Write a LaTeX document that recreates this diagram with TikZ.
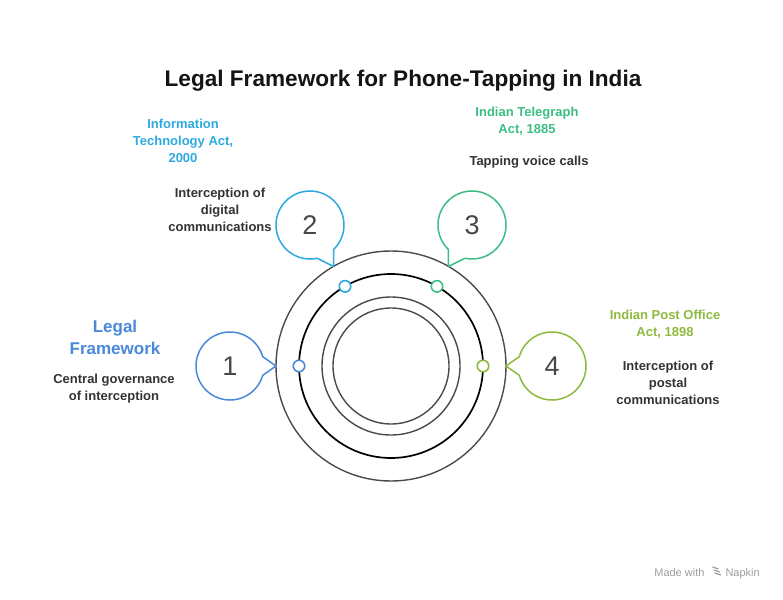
\documentclass[tikz,border=0pt]{standalone}
\usepackage{fontspec}
\setmainfont{Liberation Sans}
\usetikzlibrary{calc,positioning}

\definecolor{itemone}{HTML}{4A88DA}
\definecolor{itemtwo}{HTML}{2CAAE0}
\definecolor{itemthree}{HTML}{3CBD85}
\definecolor{itemfour}{HTML}{8DBA3E}
\definecolor{ringgray}{HTML}{4A4A4A}
\definecolor{textdark}{HTML}{333333}

\begin{document}
\begin{tikzpicture}[x=1pt,y=1pt,yscale=-1,xscale=1,
  ring/.style={draw=ringgray, line width=1.4pt},
  knob/.style={circle, draw=#1, fill=white, line width=1.6pt, minimum size=11.5pt, inner sep=0pt},
  headtext/.style={text=#1, font=\bfseries\fontsize{13}{17}\selectfont, align=center},
  bodytext/.style={text=textdark, font=\bfseries\fontsize{13}{17}\selectfont, align=center},
  numtext/.style={text=textdark!90, font=\fontsize{27}{27}\selectfont}
]
\useasboundingbox (0,0) rectangle (783,599);

% Title
\node[font=\bfseries\fontsize{22.6}{26}\selectfont, text=black!92] (title) at (403,81) {Legal Framework for Phone-Tapping in India};

% Rings
\coordinate (hub) at (391,366);
\draw[ring] (hub) circle[radius=115];
\draw[line width=1.7pt] (hub) circle[radius=92];
\draw[ring] (hub) circle[radius=69];
\draw[ring] (hub) circle[radius=58];

% Bubbles, tails and knobs
\foreach \n/\bx/\by/\ang/\tang/\col in {1/230/366/0/180/itemone, 2/310/225/62/240/itemtwo, 3/472/225/118/300/itemthree, 4/552/366/180/0/itemfour}{
  \coordinate (tip\n) at ($(hub)+(\tang:115)$);
  \node[numtext, circle, minimum size=68pt, inner sep=0pt] (bubble\n) at (\bx,\by) {\n};
  \draw[draw=\col, line width=1.5pt, line join=round] ($(bubble\n)+(\ang+16:34)$) arc[start angle=\ang+16, end angle=\ang+344, radius=34] -- (tip\n) -- cycle;
  \node[knob=\col] (knob\n) at ($(hub)+(\tang:92)$) {};
}

% Text Nodes
\node[headtext=itemone, font=\bfseries\fontsize{17}{22}\selectfont] (legalhead) at (115,337) {Legal\\Framework};
\node[bodytext] (legalbody) at (114,389) {Central governance\\of interception};
\node[headtext=itemtwo] (ithead) at (183,141) {Information\\Technology Act,\\2000};
\node[bodytext] (itbody) at (220,210) {Interception of\\digital\\communications};
\node[headtext=itemthree] (telehead) at (527,121.5) {Indian Telegraph\\Act, 1885};
\node[bodytext] (telebody) at (529,162) {Tapping voice calls};
\node[headtext=itemfour] (posthead) at (665,324.5) {Indian Post Office\\Act, 1898};
\node[bodytext] (postbody) at (668,383) {Interception of\\postal\\communications};

% Credit
\node[text=black!38, font=\fontsize{11}{13}\selectfont, anchor=base east] (credit) at (708,576) {Made with};
\node[text=black!38, font=\fontsize{11}{13}\selectfont, anchor=base west] (napkin) at (722,576) {Napkin};
\foreach \k in {0,1,2}
  \draw[black!38, line width=1.2pt] (712.5+\k*1.2,567+\k*3) -- ++(6,2);
\end{tikzpicture}
\end{document}
